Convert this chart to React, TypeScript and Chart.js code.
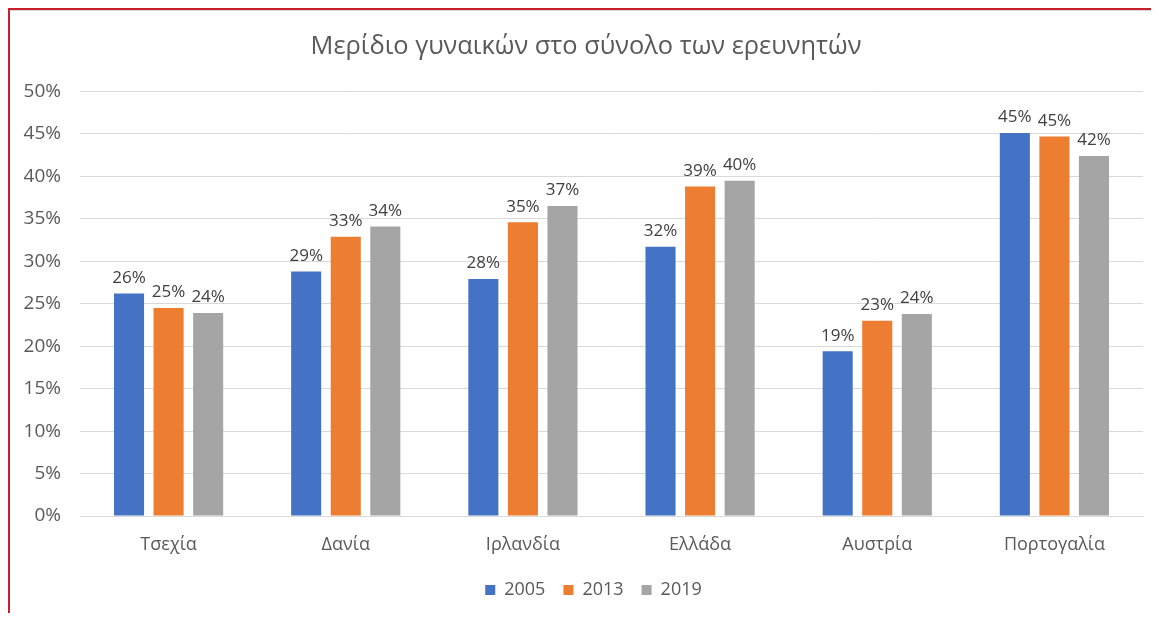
import React, { useEffect, useRef } from "react";
import { Chart, registerables } from "chart.js";

Chart.register(...registerables);

const categories = ["Τσεχία", "Δανία", "Ιρλανδία", "Ελλάδα", "Αυστρία", "Πορτογαλία"];
const years = ["2005", "2013", "2019"];
const values2005 = [0.262, 0.288, 0.279, 0.317, 0.194, 0.451];
const values2013 = [0.245, 0.329, 0.346, 0.388, 0.230, 0.447];
const values2019 = [0.239, 0.341, 0.365, 0.395, 0.238, 0.424];
const colors = ["#4472C4", "#ED7D31", "#A5A5A5"];
const titleText = "Μερίδιο γυναικών στο σύνολο των ερευνητών";

const FONT = "'Open Sans', 'DejaVu Sans', sans-serif";

const valueLabels = {
  id: "valueLabels",
  afterDatasetsDraw(chart: any) {
    const ctx = chart.ctx;
    ctx.save();
    ctx.font = `17px ${FONT}`;
    ctx.fillStyle = "#404040";
    ctx.textAlign = "center";
    ctx.textBaseline = "bottom";
    chart.data.datasets.forEach((ds: any, i: number) => {
      const meta = chart.getDatasetMeta(i);
      meta.data.forEach((el: any, j: number) => {
        const v = ds.data[j];
        ctx.fillText(Math.round(v * 100) + "%", el.x, el.y - 7);
      });
    });
    ctx.restore();
  },
};

// shift title and legend centres slightly to the right, as in the reference
const shiftBlocks = {
  id: "shiftBlocks",
  afterLayout(chart: any) {
    if (chart.titleBlock) chart.titleBlock.left += 19;
    if (chart.legend) chart.legend.left += 34;
  },
};

export default function App() {
  const ref = useRef<HTMLCanvasElement>(null);
  useEffect(() => {
    if (!ref.current) return;
    const series = [values2005, values2013, values2019];
    const chart = new Chart(ref.current, {
      type: "bar",
      data: {
        labels: categories,
        datasets: years.map((y, i) => ({
          label: y,
          data: series[i],
          backgroundColor: colors[i],
          categoryPercentage: 0.67,
          barPercentage: 0.76,
        })),
      },
      options: {
        responsive: false,
        animation: false,
        layout: { padding: { left: 0, right: 16, top: 0, bottom: 4 } },
        plugins: {
          title: {
            display: true,
            text: titleText,
            color: "#595959",
            font: { family: FONT, size: 25.4, weight: "normal" },
            padding: { top: 21, bottom: 29 },
          },
          legend: {
            position: "bottom",
            labels: {
              color: "#595959",
              font: { family: FONT, size: 18 },
              boxWidth: 10,
              boxHeight: 10,
              padding: 18,
            },
          },
          tooltip: { enabled: false },
        },
        scales: {
          x: {
            grid: { display: false, drawTicks: false },
            border: { display: true, color: "#d9d9d9" },
            ticks: { color: "#595959", font: { family: FONT, size: 18 }, padding: 18 },
            afterFit: (s: any) => { s.height = 47; },
          },
          y: {
            min: 0,
            max: 0.5,
            grid: { color: "#d9d9d9", drawTicks: false },
            border: { display: false },
            ticks: {
              stepSize: 0.05,
              color: "#595959",
              font: { family: FONT, size: 19 },
              padding: 19,
              callback: (v: any) => Math.round(Number(v) * 100) + "%",
            },
            afterFit: (s: any) => { s.width = 70; },
          },
        },
      },
      plugins: [valueLabels, shiftBlocks],
    });
    return () => chart.destroy();
  }, []);
  return (
    <div style={{ width: 1151, height: 605, borderTop: "2px solid #c8202a", borderLeft: "2px solid #c8202a", boxSizing: "border-box", overflow: "hidden" }}>
      <div style={{ borderTop: "1px solid #d9d9d9" }}>
        <canvas ref={ref} width={1149} height={602} style={{ display: "block" }} />
      </div>
    </div>
  );
}
